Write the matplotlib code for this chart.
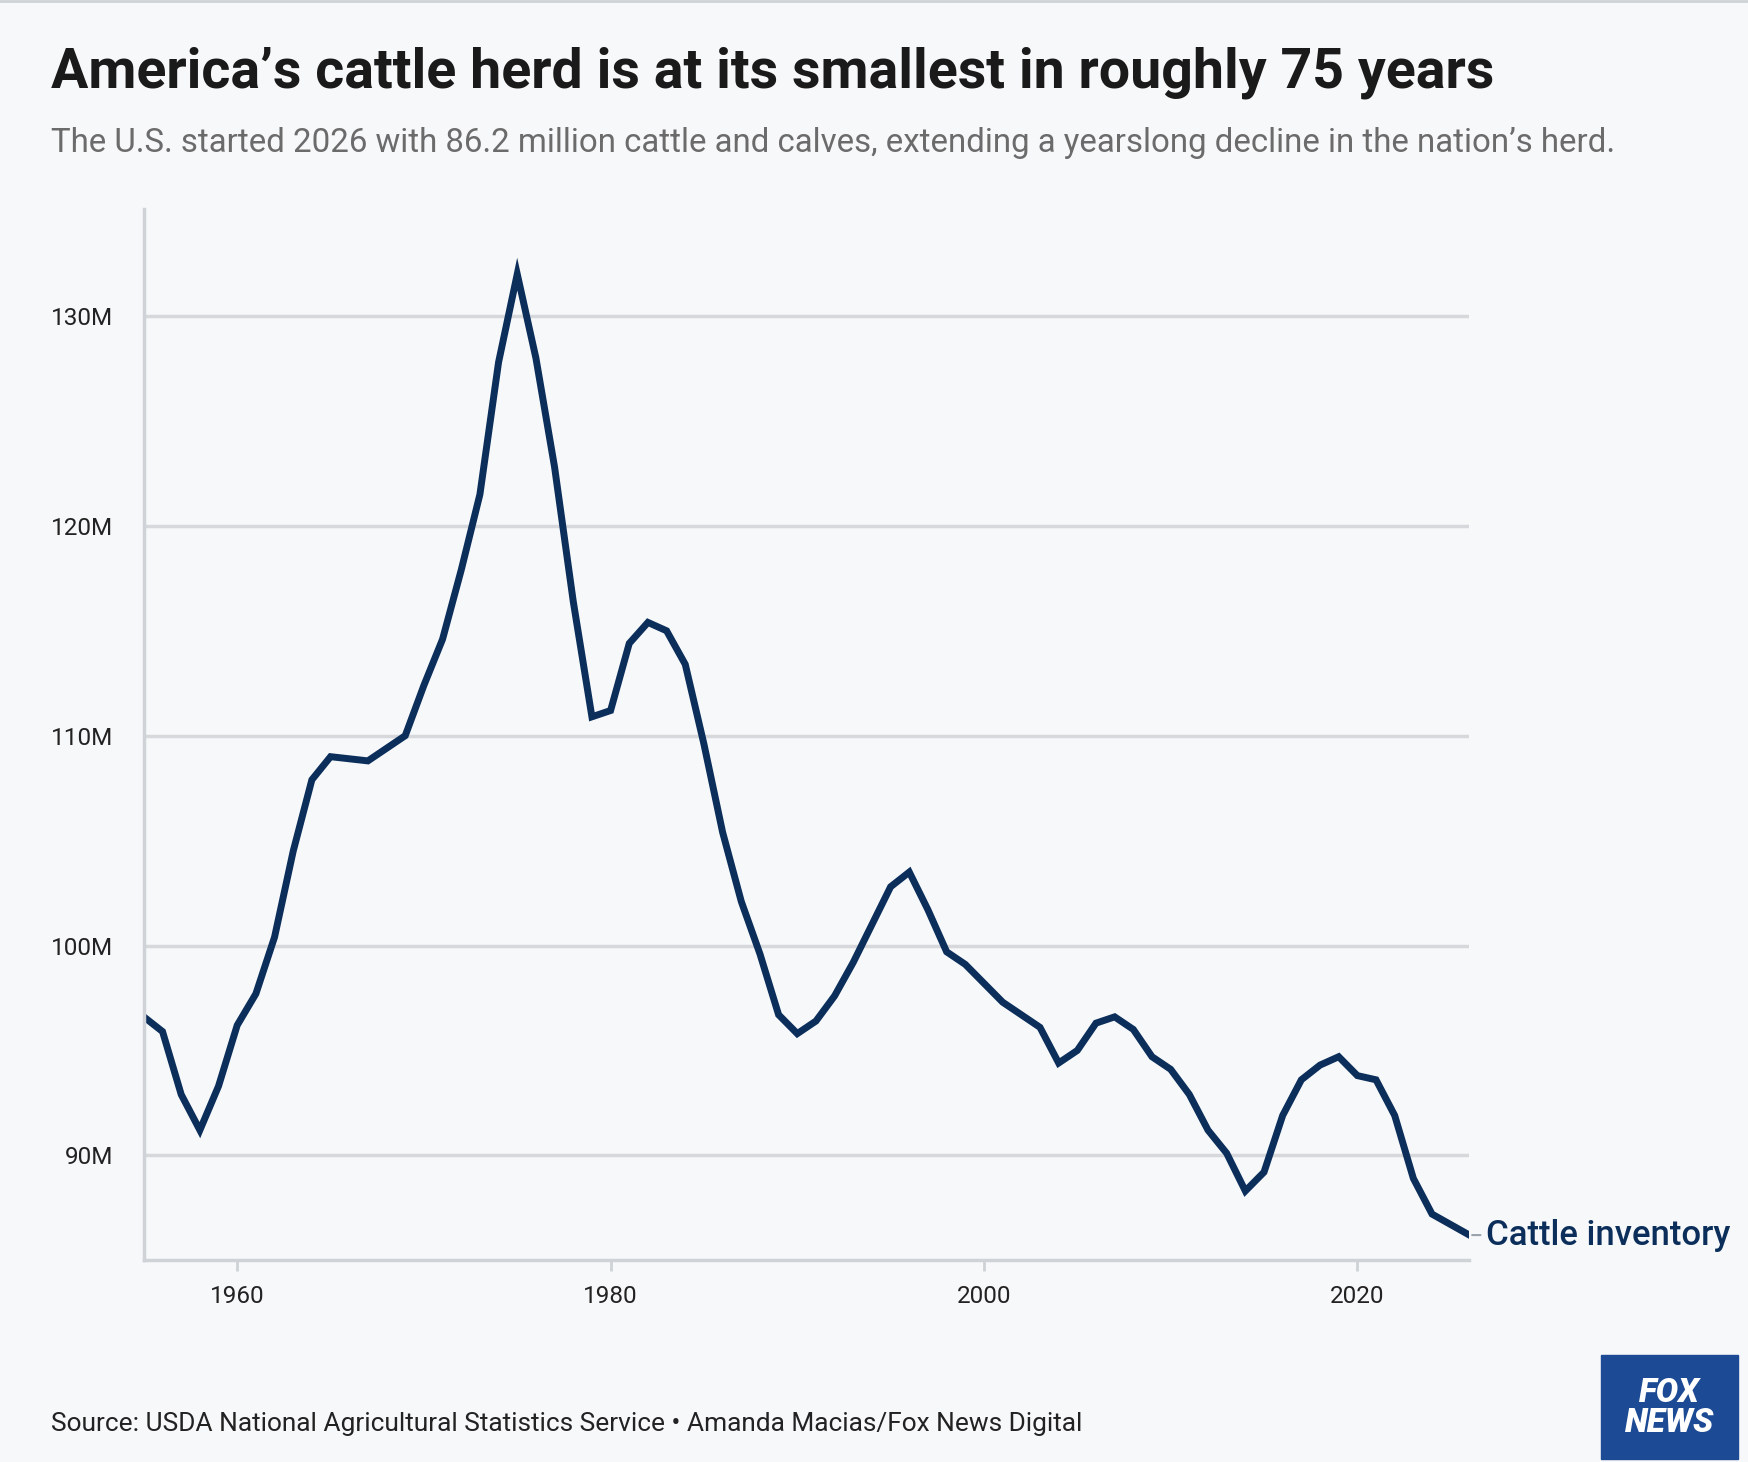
import matplotlib.pyplot as plt
from matplotlib.patches import Rectangle

plt.rcParams['font.family'] = ['Roboto', 'DejaVu Sans']

years = list(range(1955, 2027))
cattle = [96.6, 95.9, 92.9, 91.2, 93.3, 96.2, 97.7, 100.4, 104.5, 107.9,
          109.0, 108.9, 108.8, 109.4, 110.0, 112.4, 114.6, 117.9, 121.5, 127.8,
          132.0, 128.0, 122.8, 116.4, 110.9, 111.2, 114.4, 115.4, 115.0, 113.4,
          109.6, 105.4, 102.1, 99.6, 96.7, 95.8, 96.4, 97.6, 99.2, 101.0,
          102.8, 103.5, 101.7, 99.7, 99.1, 98.2, 97.3, 96.7, 96.1, 94.4,
          95.0, 96.3, 96.6, 96.0, 94.7, 94.1, 92.9, 91.2, 90.1, 88.3,
          89.2, 91.9, 93.6, 94.3, 94.7, 93.8, 93.6, 91.9, 88.9, 87.2,
          86.7, 86.2]
yticks = [90, 100, 110, 120, 130]
xticks = [1960, 1980, 2000, 2020]

bg = '#f7f8fa'
navy = '#0b2e5a'
fig = plt.figure(figsize=(17.48, 14.62), dpi=100, facecolor=bg)
ax = fig.add_axes([0.0823, 0.138, 0.7583, 0.719], facecolor=bg)

ax.plot(years, cattle, color=navy, lw=5, solid_joinstyle='miter')
ax.set_xlim(1955, 2026)
ax.set_ylim(85.0, 135.1)
ax.set_yticks(yticks)
ax.set_yticklabels([f'{v}M' for v in yticks])
ax.set_xticks(xticks)
ax.grid(axis='y', color='#d6d8dc', lw=2.5)
ax.set_axisbelow(True)
for s in ['top', 'right']:
    ax.spines[s].set_visible(False)
for s in ['left', 'bottom']:
    ax.spines[s].set_color('#cfd2d6')
    ax.spines[s].set_linewidth(2.5)
ax.tick_params(axis='y', length=0, pad=22, labelsize=17.5, labelcolor='#222222')
ax.tick_params(axis='x', length=8, width=2, color='#cfd2d6', pad=10,
               labelsize=17.5, labelcolor='#222222')

ax.annotate('Cattle inventory', xy=(2026, cattle[-1]), xytext=(12, 0),
            textcoords='offset points', va='center', ha='left',
            fontsize=25, fontweight='medium', color=navy, annotation_clip=False,
            arrowprops=dict(arrowstyle='-', color='#9aa3ad', lw=1.5,
                            shrinkA=2, shrinkB=2))

fig.text(0.029, 0.95, 'America\u2019s cattle herd is at its smallest in roughly 75 years',
         fontsize=40, fontweight='bold', color='#1a1a1a', va='center')
fig.text(0.029, 0.902, 'The U.S. started 2026 with 86.2 million cattle and calves, '
         'extending a yearslong decline in the nation\u2019s herd.',
         fontsize=23.8, color='#6b6b6b', va='center')
fig.text(0.029, 0.026, 'Source: USDA National Agricultural Statistics Service \u2022 '
         'Amanda Macias/Fox News Digital', fontsize=18.9, color='#222222', va='center')

fig.add_artist(plt.Line2D([0, 1], [0.999, 0.999], color='#cfd2d6', lw=2,
                          transform=fig.transFigure))
logo = Rectangle((0.916, 0.002), 0.078, 0.071, transform=fig.transFigure,
                 color='#1c4a94')
fig.add_artist(logo)
fig.text(0.955, 0.037, 'FOX\nNEWS', fontsize=24, fontweight='black', style='italic',
         color='white', ha='center', va='center', linespacing=0.9)

fig.savefig('out.png', dpi=100, facecolor=bg)
